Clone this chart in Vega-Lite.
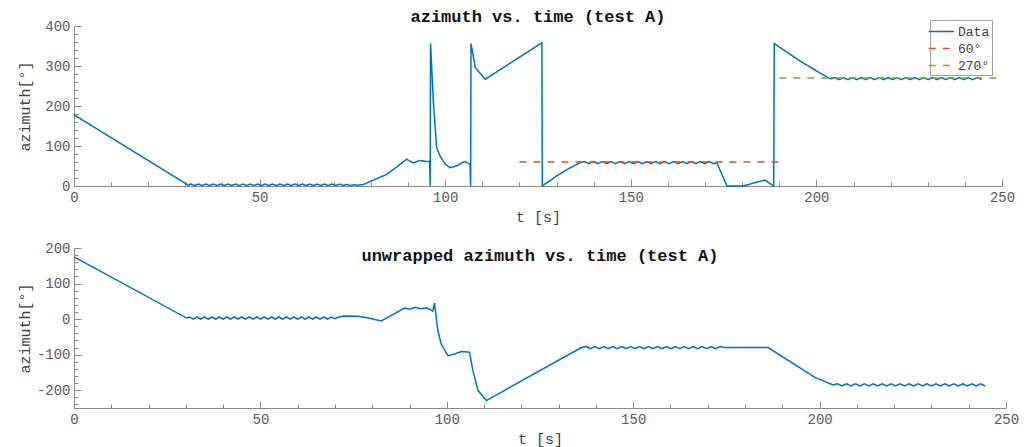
{
"$schema": "https://vega.github.io/schema/vega-lite/v6.json",
"background": "white",
"padding": {"left": 17, "top": 8, "right": 5, "bottom": 5},
"config": {
  "view": {"stroke": null},
  "font": "Liberation Mono",
  "axis": {"grid": false, "labelFlush": false, "domainColor": "#8a8a8a", "tickColor": "#8a8a8a", "labelColor": "#5a5a5a", "labelFont": "Liberation Mono", "labelFontSize": 14, "titleFont": "Liberation Mono", "titleFontSize": 15, "titleFontWeight": "normal", "titleColor": "#404040"},
  "title": {"font": "Liberation Mono", "fontSize": 17, "fontWeight": "bold", "color": "#111111"}
},
"datasets": {
"top": [
{"t":0,"v":178,"s":"Data"},{"t":30.8,"v":2,"s":"Data"},
{"t":31.5,"v":5,"s":"Data"},{"t":32.5,"v":1,"s":"Data"},{"t":33.5,"v":5,"s":"Data"},{"t":34.5,"v":1,"s":"Data"},{"t":35.5,"v":5,"s":"Data"},{"t":36.5,"v":1,"s":"Data"},{"t":37.5,"v":5,"s":"Data"},{"t":38.5,"v":1,"s":"Data"},{"t":39.5,"v":5,"s":"Data"},{"t":40.5,"v":1,"s":"Data"},{"t":41.5,"v":5,"s":"Data"},{"t":42.5,"v":1,"s":"Data"},{"t":43.5,"v":5,"s":"Data"},{"t":44.5,"v":1,"s":"Data"},{"t":45.5,"v":5,"s":"Data"},{"t":46.5,"v":1,"s":"Data"},{"t":47.5,"v":5,"s":"Data"},{"t":48.5,"v":1,"s":"Data"},{"t":49.5,"v":5,"s":"Data"},{"t":50.5,"v":1,"s":"Data"},{"t":51.5,"v":5,"s":"Data"},{"t":52.5,"v":1,"s":"Data"},{"t":53.5,"v":5,"s":"Data"},{"t":54.5,"v":1,"s":"Data"},{"t":55.5,"v":5,"s":"Data"},{"t":56.5,"v":1,"s":"Data"},{"t":57.5,"v":5,"s":"Data"},{"t":58.5,"v":1,"s":"Data"},{"t":59.5,"v":5,"s":"Data"},{"t":60.5,"v":1,"s":"Data"},{"t":61.5,"v":5,"s":"Data"},{"t":62.5,"v":1,"s":"Data"},{"t":63.5,"v":5,"s":"Data"},{"t":64.5,"v":1,"s":"Data"},{"t":65.5,"v":5,"s":"Data"},{"t":66.5,"v":1,"s":"Data"},{"t":67.5,"v":5,"s":"Data"},{"t":68.5,"v":1,"s":"Data"},{"t":69.5,"v":5,"s":"Data"},{"t":70.5,"v":1,"s":"Data"},{"t":71.5,"v":5,"s":"Data"},{"t":72.5,"v":1,"s":"Data"},{"t":73.5,"v":4,"s":"Data"},{"t":74.5,"v":1,"s":"Data"},{"t":75.5,"v":3,"s":"Data"},
{"t":76.5,"v":2,"s":"Data"},{"t":78,"v":4,"s":"Data"},{"t":79.7,"v":11,"s":"Data"},{"t":82,"v":20,"s":"Data"},{"t":84.2,"v":29,"s":"Data"},{"t":87,"v":48,"s":"Data"},{"t":89.6,"v":67,"s":"Data"},{"t":91.4,"v":58,"s":"Data"},{"t":93.2,"v":64,"s":"Data"},{"t":95,"v":61,"s":"Data"},{"t":95.8,"v":62,"s":"Data"},{"t":95.95,"v":0,"s":"Data"},{"t":96.05,"v":356,"s":"Data"},{"t":96.8,"v":212,"s":"Data"},{"t":97.7,"v":96,"s":"Data"},{"t":98.6,"v":75,"s":"Data"},{"t":100,"v":55,"s":"Data"},{"t":101.3,"v":46,"s":"Data"},{"t":103,"v":50,"s":"Data"},{"t":104.5,"v":58,"s":"Data"},{"t":105.4,"v":61,"s":"Data"},{"t":106.7,"v":54,"s":"Data"},{"t":106.85,"v":0,"s":"Data"},{"t":106.95,"v":356,"s":"Data"},{"t":108.1,"v":296,"s":"Data"},{"t":110.8,"v":267,"s":"Data"},{"t":126.05,"v":358,"s":"Data"},{"t":126.15,"v":0,"s":"Data"},{"t":130,"v":25,"s":"Data"},{"t":133,"v":42,"s":"Data"},{"t":136.3,"v":58,"s":"Data"},
{"t":137.5,"v":61,"s":"Data"},{"t":138.7,"v":56,"s":"Data"},{"t":139.9,"v":61,"s":"Data"},{"t":141.1,"v":56,"s":"Data"},{"t":142.3,"v":61,"s":"Data"},{"t":143.5,"v":56,"s":"Data"},{"t":144.7,"v":61,"s":"Data"},{"t":145.9,"v":56,"s":"Data"},{"t":147.1,"v":61,"s":"Data"},{"t":148.3,"v":56,"s":"Data"},{"t":149.5,"v":61,"s":"Data"},{"t":150.7,"v":56,"s":"Data"},{"t":151.9,"v":61,"s":"Data"},{"t":153.1,"v":56,"s":"Data"},{"t":154.3,"v":61,"s":"Data"},{"t":155.5,"v":56,"s":"Data"},{"t":156.7,"v":61,"s":"Data"},{"t":157.9,"v":56,"s":"Data"},{"t":159.1,"v":61,"s":"Data"},{"t":160.3,"v":56,"s":"Data"},{"t":161.5,"v":61,"s":"Data"},{"t":162.7,"v":56,"s":"Data"},{"t":163.9,"v":61,"s":"Data"},{"t":165.1,"v":56,"s":"Data"},{"t":166.3,"v":61,"s":"Data"},{"t":167.5,"v":56,"s":"Data"},{"t":168.7,"v":61,"s":"Data"},{"t":169.9,"v":56,"s":"Data"},{"t":171.1,"v":61,"s":"Data"},{"t":172.3,"v":56,"s":"Data"},
{"t":173.2,"v":58,"s":"Data"},{"t":175.9,"v":0,"s":"Data"},{"t":180.2,"v":0,"s":"Data"},{"t":186.1,"v":15,"s":"Data"},{"t":188.3,"v":1,"s":"Data"},{"t":188.5,"v":0,"s":"Data"},{"t":188.65,"v":356,"s":"Data"},{"t":192,"v":335,"s":"Data"},{"t":196,"v":310,"s":"Data"},{"t":200,"v":288,"s":"Data"},{"t":203.7,"v":268,"s":"Data"},
{"t":204.9,"v":271,"s":"Data"},{"t":206.1,"v":266,"s":"Data"},{"t":207.3,"v":271,"s":"Data"},{"t":208.5,"v":266,"s":"Data"},{"t":209.7,"v":271,"s":"Data"},{"t":210.9,"v":266,"s":"Data"},{"t":212.1,"v":271,"s":"Data"},{"t":213.3,"v":266,"s":"Data"},{"t":214.5,"v":271,"s":"Data"},{"t":215.7,"v":266,"s":"Data"},{"t":216.9,"v":271,"s":"Data"},{"t":218.1,"v":266,"s":"Data"},{"t":219.3,"v":271,"s":"Data"},{"t":220.5,"v":266,"s":"Data"},{"t":221.7,"v":271,"s":"Data"},{"t":222.9,"v":266,"s":"Data"},{"t":224.1,"v":271,"s":"Data"},{"t":225.3,"v":266,"s":"Data"},{"t":226.5,"v":271,"s":"Data"},{"t":227.7,"v":266,"s":"Data"},{"t":228.9,"v":271,"s":"Data"},{"t":230.1,"v":266,"s":"Data"},{"t":231.3,"v":271,"s":"Data"},{"t":232.5,"v":266,"s":"Data"},{"t":233.7,"v":271,"s":"Data"},{"t":234.9,"v":266,"s":"Data"},{"t":236.1,"v":271,"s":"Data"},{"t":237.3,"v":266,"s":"Data"},{"t":238.5,"v":271,"s":"Data"},{"t":239.7,"v":266,"s":"Data"},{"t":240.9,"v":271,"s":"Data"},{"t":242.1,"v":266,"s":"Data"},{"t":243.3,"v":271,"s":"Data"},{"t":244.5,"v":266,"s":"Data"},
{"t":120,"v":60,"s":"60°"},{"t":190,"v":60,"s":"60°"},
{"t":190,"v":270,"s":"270°"},{"t":250,"v":270,"s":"270°"}
],
"bot": [
{"t":0,"v":175},{"t":30.2,"v":3},
{"t":31,"v":6},{"t":32,"v":0},{"t":33,"v":6},{"t":34,"v":0},{"t":35,"v":6},{"t":36,"v":0},{"t":37,"v":6},{"t":38,"v":0},{"t":39,"v":6},{"t":40,"v":0},{"t":41,"v":6},{"t":42,"v":0},{"t":43,"v":6},{"t":44,"v":0},{"t":45,"v":6},{"t":46,"v":0},{"t":47,"v":6},{"t":48,"v":0},{"t":49,"v":6},{"t":50,"v":0},{"t":51,"v":6},{"t":52,"v":0},{"t":53,"v":6},{"t":54,"v":0},{"t":55,"v":6},{"t":56,"v":0},{"t":57,"v":6},{"t":58,"v":0},{"t":59,"v":6},{"t":60,"v":0},{"t":61,"v":6},{"t":62,"v":0},{"t":63,"v":6},{"t":64,"v":0},{"t":65,"v":6},{"t":66,"v":0},{"t":67,"v":6},{"t":68,"v":0},{"t":69,"v":6},{"t":70,"v":1},{"t":71,"v":6},
{"t":72.6,"v":9},{"t":76,"v":8},{"t":79,"v":3},{"t":82.4,"v":-5},{"t":85,"v":10},{"t":88.7,"v":31},{"t":90,"v":28},{"t":91.5,"v":33},{"t":93,"v":29},{"t":94.5,"v":32},{"t":95.7,"v":26},{"t":96.2,"v":22},{"t":96.7,"v":45},{"t":97.6,"v":-33},{"t":98.5,"v":-70},{"t":100.3,"v":-103},{"t":102.1,"v":-98},{"t":103.9,"v":-91},{"t":106.1,"v":-93},{"t":107,"v":-145},{"t":108.4,"v":-201},{"t":110.6,"v":-229},{"t":136.1,"v":-80},
{"t":137.3,"v":-77},{"t":138.5,"v":-83},{"t":139.7,"v":-77},{"t":140.9,"v":-83},{"t":142.1,"v":-77},{"t":143.3,"v":-83},{"t":144.5,"v":-77},{"t":145.7,"v":-83},{"t":146.9,"v":-77},{"t":148.1,"v":-83},{"t":149.3,"v":-77},{"t":150.5,"v":-83},{"t":151.7,"v":-77},{"t":152.9,"v":-83},{"t":154.1,"v":-77},{"t":155.3,"v":-83},{"t":156.5,"v":-77},{"t":157.7,"v":-83},{"t":158.9,"v":-77},{"t":160.1,"v":-83},{"t":161.3,"v":-77},{"t":162.5,"v":-83},{"t":163.7,"v":-77},{"t":164.9,"v":-83},{"t":166.1,"v":-77},{"t":167.3,"v":-83},{"t":168.5,"v":-77},{"t":169.7,"v":-83},{"t":170.9,"v":-77},{"t":172.1,"v":-83},{"t":173.3,"v":-77},
{"t":174.5,"v":-80},{"t":186.2,"v":-80},{"t":198.7,"v":-164},{"t":203.6,"v":-185},
{"t":204.8,"v":-182},{"t":206,"v":-188},{"t":207.2,"v":-182},{"t":208.4,"v":-188},{"t":209.6,"v":-182},{"t":210.8,"v":-188},{"t":212,"v":-182},{"t":213.2,"v":-188},{"t":214.4,"v":-182},{"t":215.6,"v":-188},{"t":216.8,"v":-182},{"t":218,"v":-188},{"t":219.2,"v":-182},{"t":220.4,"v":-188},{"t":221.6,"v":-182},{"t":222.8,"v":-188},{"t":224,"v":-182},{"t":225.2,"v":-188},{"t":226.4,"v":-182},{"t":227.6,"v":-188},{"t":228.8,"v":-182},{"t":230,"v":-188},{"t":231.2,"v":-182},{"t":232.4,"v":-188},{"t":233.6,"v":-182},{"t":234.8,"v":-188},{"t":236,"v":-182},{"t":237.2,"v":-188},{"t":238.4,"v":-182},{"t":239.6,"v":-188},{"t":240.8,"v":-182},{"t":242,"v":-188},{"t":243.2,"v":-182},{"t":244.4,"v":-188}
]
},
"bounds": "flush",
"spacing": 62,
"vconcat": [
{
  "width": 928, "height": 160,
  "title": {"text": "azimuth vs. time (test A)", "offset": -7},
  "data": {"name": "top"},
  "mark": {"type": "line", "strokeWidth": 1.5},
  "encoding": {
    "x": {"field": "t", "type": "quantitative", "scale": {"domain": [0, 250], "nice": false},
      "axis": {"title": "t [s]", "values": [0,10,20,30,40,50,60,70,80,90,100,110,120,130,140,150,160,170,180,190,200,210,220,230,240,250],
        "labelExpr": "datum.value % 50 === 0 ? '' + datum.value : ''",
        "tickSize": {"condition": {"test": "datum.value % 50 === 0", "value": -7}, "value": -4},
        "labelPadding": 11, "titleY": 23}},
    "y": {"field": "v", "type": "quantitative", "scale": {"domain": [0, 400], "nice": false},
      "axis": {"title": "azimuth[°]", "values": [0,20,40,60,80,100,120,140,160,180,200,220,240,260,280,300,320,340,360,380,400],
        "labelExpr": "datum.value % 100 === 0 ? '' + datum.value : ''",
        "tickSize": {"condition": {"test": "datum.value % 100 === 0", "value": -7}, "value": -4},
        "labelPadding": 11, "titleX": -42, "titleY": 80}},
    "color": {"field": "s", "type": "nominal", "sort": null,
      "scale": {"domain": ["Data", "60°", "270°"], "range": ["#0072BD", "#D95319", "#77AC30"]},
      "legend": {"title": null, "orient": "none", "legendX": 856, "legendY": -6, "strokeColor": "#a0a0a0", "fillColor": "white", "padding": 2, "symbolType": "M-1.5,0H1.5", "symbolSize": 289, "symbolStrokeWidth": 1.5, "labelFont": "Liberation Mono", "labelFontSize": 13, "labelColor": "#404040", "labelOffset": 7, "rowPadding": -4}},
    "strokeDash": {"field": "s", "type": "nominal", "sort": null,
      "scale": {"domain": ["Data", "60°", "270°"], "range": [[1, 0], [7, 7], [7, 7]]},
      "legend": {"title": null, "orient": "none", "legendX": 856, "legendY": -6, "strokeColor": "#a0a0a0", "fillColor": "white", "padding": 2, "symbolType": "M-1.5,0H1.5", "symbolSize": 289, "symbolStrokeWidth": 1.5, "labelFont": "Liberation Mono", "labelFontSize": 13, "labelColor": "#404040", "labelOffset": 7, "rowPadding": -4}}
  }
},
{
  "width": 932, "height": 160,
  "title": {"text": "unwrapped azimuth vs. time (test A)", "offset": -24},
  "data": {"name": "bot"},
  "mark": {"type": "line", "strokeWidth": 1.5, "color": "#0072BD"},
  "encoding": {
    "x": {"field": "t", "type": "quantitative", "scale": {"domain": [0, 250], "nice": false},
      "axis": {"title": "t [s]", "values": [0,10,20,30,40,50,60,70,80,90,100,110,120,130,140,150,160,170,180,190,200,210,220,230,240,250],
        "labelExpr": "datum.value % 50 === 0 ? '' + datum.value : ''",
        "tickSize": {"condition": {"test": "datum.value % 50 === 0", "value": -7}, "value": -4},
        "labelPadding": 11, "titleY": 23}},
    "y": {"field": "v", "type": "quantitative", "scale": {"domain": [-250, 200], "nice": false},
      "axis": {"title": "azimuth[°]", "values": [-240,-220,-200,-180,-160,-140,-120,-100,-80,-60,-40,-20,0,20,40,60,80,100,120,140,160,180,200],
        "labelExpr": "datum.value % 100 === 0 ? '' + datum.value : ''",
        "tickSize": {"condition": {"test": "datum.value % 100 === 0", "value": -7}, "value": -4},
        "labelPadding": 11, "titleX": -42, "titleY": 80}}
  }
}
]
}
